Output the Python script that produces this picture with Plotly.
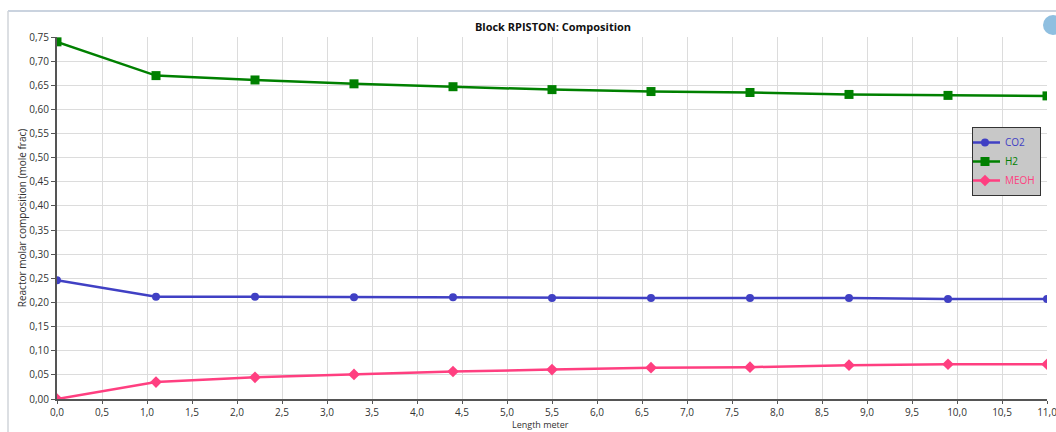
import plotly.graph_objects as go

length = [0.0, 1.1, 2.2, 3.3, 4.4, 5.5, 6.6, 7.7, 8.8, 9.9, 11.0]
co2 = [0.246, 0.212, 0.212, 0.211, 0.211, 0.209, 0.209, 0.209, 0.209, 0.207, 0.207]
h2 = [0.740, 0.670, 0.661, 0.653, 0.647, 0.641, 0.637, 0.635, 0.631, 0.629, 0.628]
meoh = [0.000, 0.035, 0.045, 0.051, 0.057, 0.061, 0.065, 0.066, 0.070, 0.072, 0.072]

x_tickvals = [i * 0.5 for i in range(23)]
x_ticktext = ["0,0", "0,5", "1,0", "1,5", "2,0", "2,5", "3,0", "3,5", "4,0", "4,5", "5,0", "5,5",
              "6,0", "6,5", "7,0", "7,5", "8,0", "8,5", "9,0", "9,5", "10,0", "10,5", "11,0"]
y_tickvals = [i * 0.05 for i in range(16)]
y_ticktext = ["0,00", "0,05", "0,10", "0,15", "0,20", "0,25", "0,30", "0,35", "0,40", "0,45",
              "0,50", "0,55", "0,60", "0,65", "0,70", "0,75"]

C_CO2 = "#4040c4"
C_H2 = "#008000"
C_MEOH = "#ff3f80"

fig = go.Figure()
fig.add_trace(go.Scatter(x=length, y=co2, mode="lines+markers",
                         name=f"<span style='color:{C_CO2}'>CO2</span>",
                         line=dict(color=C_CO2, width=2.5),
                         marker=dict(symbol="circle", size=8, color=C_CO2)))
fig.add_trace(go.Scatter(x=length, y=h2, mode="lines+markers",
                         name=f"<span style='color:{C_H2}'>H2</span>",
                         line=dict(color=C_H2, width=2.5),
                         marker=dict(symbol="square", size=9, color=C_H2)))
fig.add_trace(go.Scatter(x=length, y=meoh, mode="lines+markers",
                         name=f"<span style='color:{C_MEOH}'>MEOH</span>",
                         line=dict(color=C_MEOH, width=2.5),
                         marker=dict(symbol="diamond", size=9, color=C_MEOH)))

font_family = "Open Sans, Noto Sans, sans-serif"

T, B = 37, 33
H = 432 - T - B
Y0 = 432 - B

fig.update_layout(
    width=1056, height=432,
    margin=dict(l=57, r=9, t=T, b=B, autoexpand=False),
    paper_bgcolor="white", plot_bgcolor="white",
    font=dict(family=font_family, size=10, color="#333333"),
    title=dict(text="<b>Block RPISTON: Composition</b>", x=(553 / 1056), xanchor="center",
               y=1 - 27 / 432, yanchor="middle", font=dict(size=11, color="#111111")),
    showlegend=True,
    legend=dict(x=(972 - 57) / 990, y=(Y0 - 127) / H, xanchor="left", yanchor="top",
                bgcolor="#c8c8c8", bordercolor="#333333", borderwidth=1,
                font=dict(size=10), itemwidth=30, tracegroupgap=0,
                indentation=-8),
    xaxis=dict(range=[0, 11], tickmode="array", tickvals=x_tickvals, ticktext=x_ticktext,
               showgrid=True, gridcolor="#dcdcdc", gridwidth=1,
               showline=True, linecolor="#555555", linewidth=2,
               ticks="outside", ticklen=3, tickcolor="#555555",
               zeroline=False, automargin=False, ticklabeloverflow="allow"),
    yaxis=dict(range=[0, 0.75], tickmode="array", tickvals=y_tickvals, ticktext=y_ticktext,
               showgrid=True, gridcolor="#dcdcdc", gridwidth=1,
               showline=True, linecolor="#555555", linewidth=2,
               ticks="outside", ticklen=4, tickcolor="#555555",
               zeroline=False, automargin=False, ticklabeloverflow="allow",
               title=dict(text="Reactor molar composition (mole frac)", standoff=0, font=dict(size=10))),
    annotations=[dict(text="Length meter", xref="paper", yref="paper",
                      x=(540 - 57) / 990, y=(Y0 - 432) / H, xanchor="center", yanchor="bottom",
                      showarrow=False, borderpad=0, font=dict(size=9, color="#333333"))],
)

# outer window frame lines
fig.add_shape(type="line", xref="paper", yref="paper",
              x0=(8 - 57) / 990, x1=(1056 - 57) / 990,
              y0=(Y0 - 11) / H, y1=(Y0 - 11) / H,
              line=dict(color="#b8c4d4", width=1.5))
fig.add_shape(type="line", xref="paper", yref="paper",
              x0=(8 - 57) / 990, x1=(8 - 57) / 990,
              y0=(Y0 - 11) / H, y1=(Y0 - 432) / H,
              line=dict(color="#d0d4da", width=1.5))
# info icon at top right
fig.add_shape(type="circle", xref="paper", yref="paper",
              x0=(1043 - 57) / 990, x1=(1063 - 57) / 990,
              y0=(Y0 - 35) / H, y1=(Y0 - 15) / H,
              fillcolor="#8fbfe0", line=dict(color="#8fbfe0", width=0))

fig.write_html("out.html")
